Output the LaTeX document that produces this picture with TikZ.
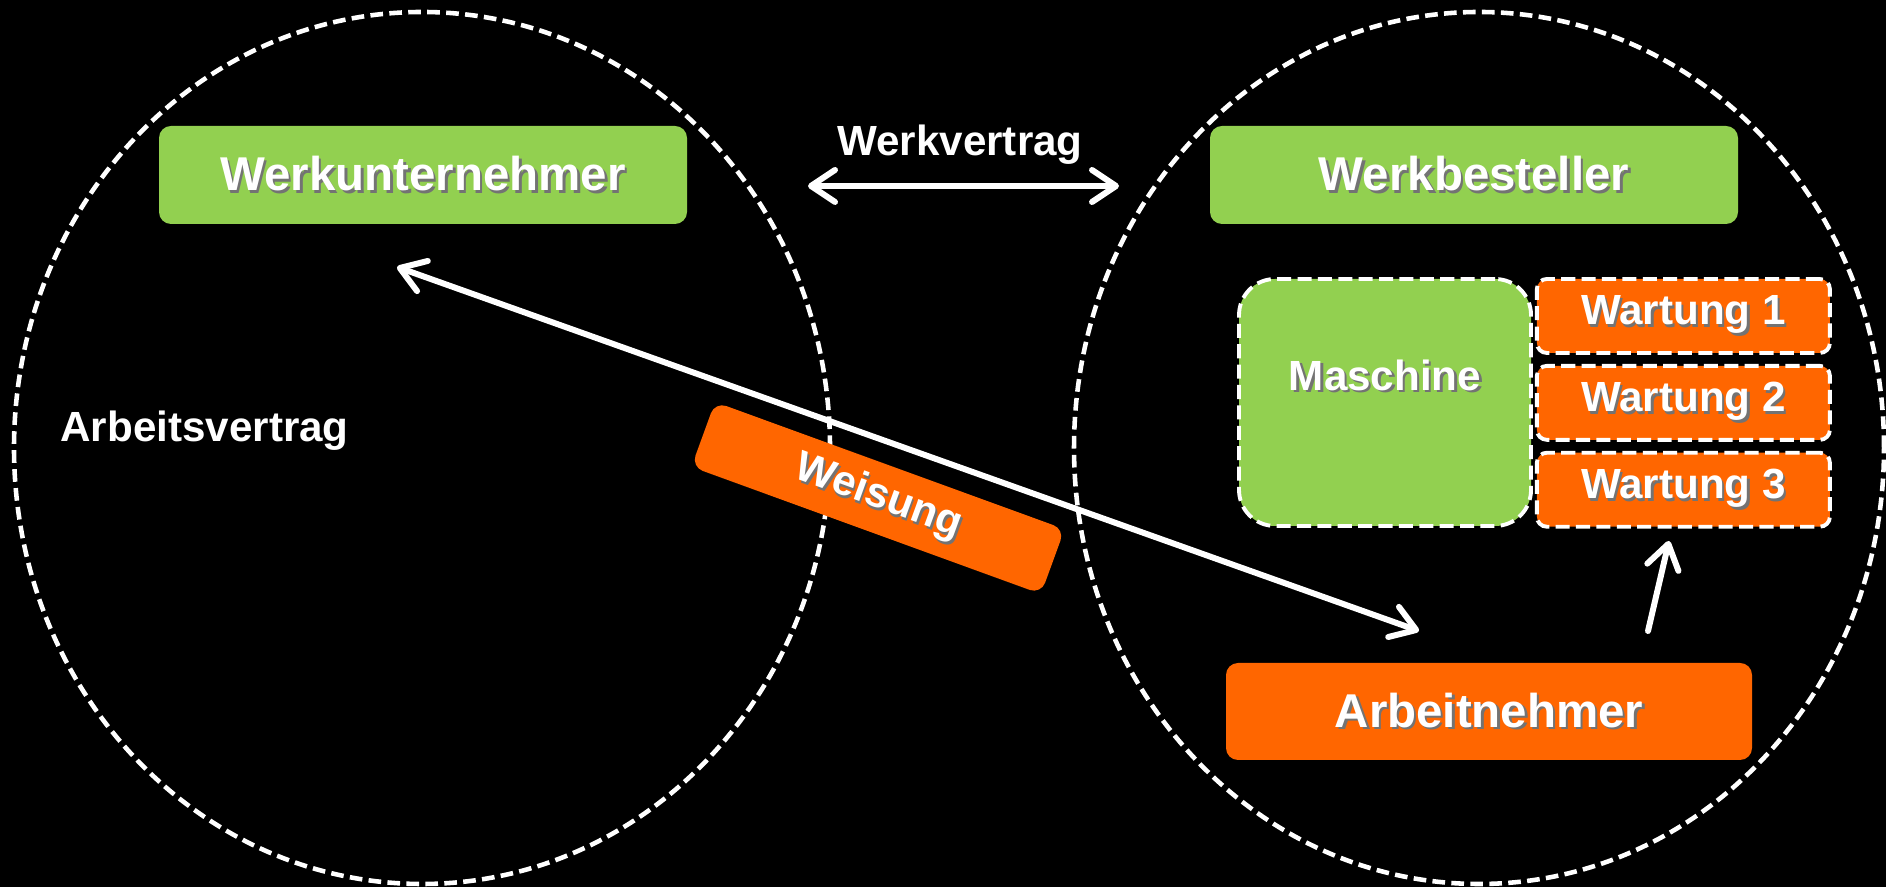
\documentclass[tikz,border=0pt]{standalone}
\usepackage{fontspec}
\setmainfont{Liberation Sans}
\usetikzlibrary{arrows.meta,positioning,calc}

\definecolor{gruen}{RGB}{146,208,80}
\definecolor{orangeton}{RGB}{255,102,0}
% white lettering with a small drop shadow
\newcommand\stxt[2][black!55]{\makebox[0pt][l]{\hspace{0.7pt}\raisebox{-0.7pt}{\color{#1}#2}}#2}

\begin{document}
\begin{tikzpicture}[every node/.style={text=white, font=\fontsize{12}{14}\selectfont\bfseries},
    rand/.style={white, line width=1.3pt, dash pattern=on 3.6pt off 1.8pt},
    gbox/.style={rectangle, fill=gruen, rounded corners=0.12cm, minimum width=5.28cm, minimum height=0.98cm, font=\fontsize{13.5}{16}\selectfont\bfseries},
    obox/.style={rectangle, fill=orangeton, rounded corners=0.12cm, minimum width=5.26cm, minimum height=0.97cm, font=\fontsize{13.5}{16}\selectfont\bfseries},
    mbox/.style={rectangle, fill=gruen, draw=white, line width=1.1pt, dash pattern=on 4pt off 1.8pt, rounded corners=0.36cm, minimum width=2.92cm, minimum height=2.47cm},
    wbox/.style={rectangle, fill=orangeton, draw=white, line width=1.1pt, dash pattern=on 4pt off 1.8pt, rounded corners=0.1cm, minimum width=2.93cm, minimum height=0.74cm},
    pfeil/.style={white, line width=1.7pt, line cap=round, arrows={[length=0.24cm, width=0.32cm, round]}}]
  \fill[black] (0,0) rectangle (18.86,8.87);
  \useasboundingbox (0,0) rectangle (18.86,8.87);

  % the two contract circles
  \draw[rand] (4.22,4.39) ellipse [x radius=4.08, y radius=4.36];
  \draw[rand] (14.79,4.39) ellipse [x radius=4.05, y radius=4.36];

  \node (wu) at (4.23,7.12) [gbox] {\stxt{Werkunternehmer}};
  \node (wb) at (14.74,7.12) [gbox] {\stxt{Werkbesteller}};
  \node (an) at (14.89,1.755) [obox] {\stxt{Arbeitnehmer}};
  \node (av) at (0.48,4.56) [anchor=west] {Arbeitsvertrag};

  \node (ma) at (13.85,4.845) [mbox] {};
  \node (matxt) [below=0.82cm of ma.north, inner sep=0] {\stxt{Maschine}};
  \node (w1) [wbox, below right=0cm and 0.02cm of ma.north east] {\stxt{Wartung 1}};
  \node (w2) [wbox, below=0.09cm of w1] {\stxt{Wartung 2}};
  \node (w3) [wbox, below=0.09cm of w2] {\stxt{Wartung 3}};

  \node (ws) at (8.78,3.89) [obox, rotate=-20, minimum width=3.72cm, minimum height=0.69cm, font=\fontsize{12}{14}\selectfont\bfseries] {\stxt{Weisung}};

  \coordinate (wv1) at (8.08,7.01);
  \coordinate (wv2) at (11.19,7.01);
  \node (wv) at (9.60,7.42) {Werkvertrag};
  \draw[pfeil, {Straight Barb}-{Straight Barb}] (wv1) -- (wv2);

  \coordinate (l1) at (3.97,6.20);
  \coordinate (l2) at (14.19,2.56);
  \draw[pfeil, {Straight Barb}-{Straight Barb}] (l1) -- (l2);

  \coordinate (k1) at (16.48,2.56);
  \coordinate (k2) at (16.69,3.46);
  \draw[pfeil, -{Straight Barb}] (k1) -- (k2);
\end{tikzpicture}
\end{document}
